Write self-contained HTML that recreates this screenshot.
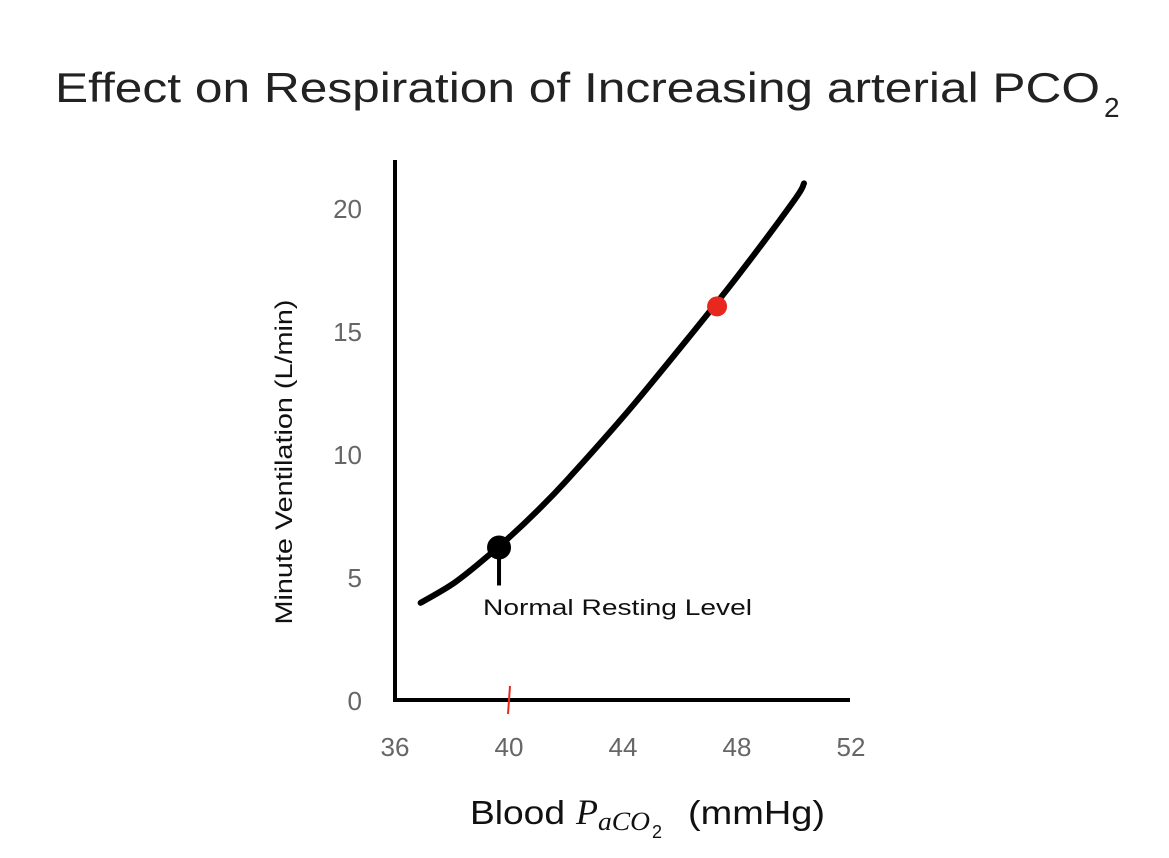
<!DOCTYPE html>
<html><head><meta charset="utf-8"><style>
body{margin:0;background:#fff;}
svg{display:block;font-family:"Liberation Sans",sans-serif;}
</style></head><body>
<svg width="1169" height="858" viewBox="0 0 1169 858">
<text x="55" y="102" font-size="42" fill="#222" textLength="1045" lengthAdjust="spacingAndGlyphs">Effect on Respiration of Increasing arterial PCO</text>
<text x="1104" y="117" font-size="28" fill="#222">2</text>
<g id="axes"></g>
<g id="plot"></g>
<text transform="translate(292,462) rotate(-90)" text-anchor="middle" font-size="24" fill="#111" textLength="325" lengthAdjust="spacingAndGlyphs">Minute Ventilation (L/min)</text>
<g fill="#111">
<text x="470" y="824" font-size="33" textLength="95" lengthAdjust="spacingAndGlyphs">Blood</text>
<text x="576" y="824" font-size="36" font-family="Liberation Serif" font-style="italic">P</text>
<text x="598" y="830" font-size="26" font-family="Liberation Serif" font-style="italic" textLength="52" lengthAdjust="spacingAndGlyphs">aCO</text>
<text x="652" y="838" font-size="18">2</text>
<text x="688" y="824" font-size="33" textLength="137" lengthAdjust="spacingAndGlyphs">(mmHg)</text>
</g>
<text x="483" y="615" font-size="22" fill="#111" textLength="269" lengthAdjust="spacingAndGlyphs">Normal Resting Level</text>
</svg>
<script>
const xTicks=[36,40,44,48,52];
const yTicks=[0,5,10,15,20];
const curveX=[36.9,38,39,40,41,42,44,46,48,50,50.35];
const curveY=[3.95,4.7,5.6,6.6,7.7,8.9,11.5,14.3,17.2,20.3,21.0];
const restPoint=[39.65,6.2];
const markPoint=[47.3,16.0];
const xs=v=>395+(v-36)*28.5;
const ys=v=>700-v*24.6;
const NS="http://www.w3.org/2000/svg";
function mk(t,a,p){const e=document.createElementNS(NS,t);for(const k in a)e.setAttribute(k,a[k]);p.appendChild(e);return e;}
const ax=document.getElementById('axes'),pl=document.getElementById('plot');
let e=mk('line',{x1:395,y1:160,x2:395,y2:702,stroke:'#000','stroke-width':4},ax);


e=mk('line',{x1:393,y1:700,x2:850,y2:700,stroke:'#000','stroke-width':4},ax);


xTicks.forEach(v=>{const t=mk('text',{x:xs(v),y:756,'text-anchor':'middle','font-size':26,fill:'#666'},ax);t.textContent=v;

});
yTicks.forEach(v=>{const t=mk('text',{x:362,y:ys(v)+10,'text-anchor':'end','font-size':26,fill:'#666'},ax);t.textContent=v;

});
const P=curveX.map((v,i)=>[xs(v),ys(curveY[i])]);
let d='M'+P[0][0]+','+P[0][1];
for(let i=0;i<P.length-1;i++){const p0=P[Math.max(0,i-1)],p1=P[i],p2=P[i+1],p3=P[Math.min(P.length-1,i+2)];
d+=' C'+(p1[0]+(p2[0]-p0[0])/6).toFixed(1)+','+(p1[1]+(p2[1]-p0[1])/6).toFixed(1)+' '+(p2[0]-(p3[0]-p1[0])/6).toFixed(1)+','+(p2[1]-(p3[1]-p1[1])/6).toFixed(1)+' '+p2[0].toFixed(1)+','+p2[1].toFixed(1);}
e=mk('path',{d:d,fill:'none',stroke:'#000','stroke-width':6,'stroke-linecap':'round','stroke-linejoin':'round'},pl);


e=mk('line',{x1:xs(restPoint[0]),y1:ys(restPoint[1]),x2:xs(restPoint[0]),y2:ys(restPoint[1])+38,stroke:'#000','stroke-width':4},pl);


e=mk('circle',{cx:xs(restPoint[0]),cy:ys(restPoint[1]),r:12,fill:'#000'},pl);


e=mk('circle',{cx:xs(markPoint[0]),cy:ys(markPoint[1]),r:10,fill:'#e8281e'},pl);


e=mk('line',{x1:xs(40)-1,y1:714,x2:xs(40)+1,y2:686,stroke:'#e8281e','stroke-width':2},pl);


</script>
</body></html>
